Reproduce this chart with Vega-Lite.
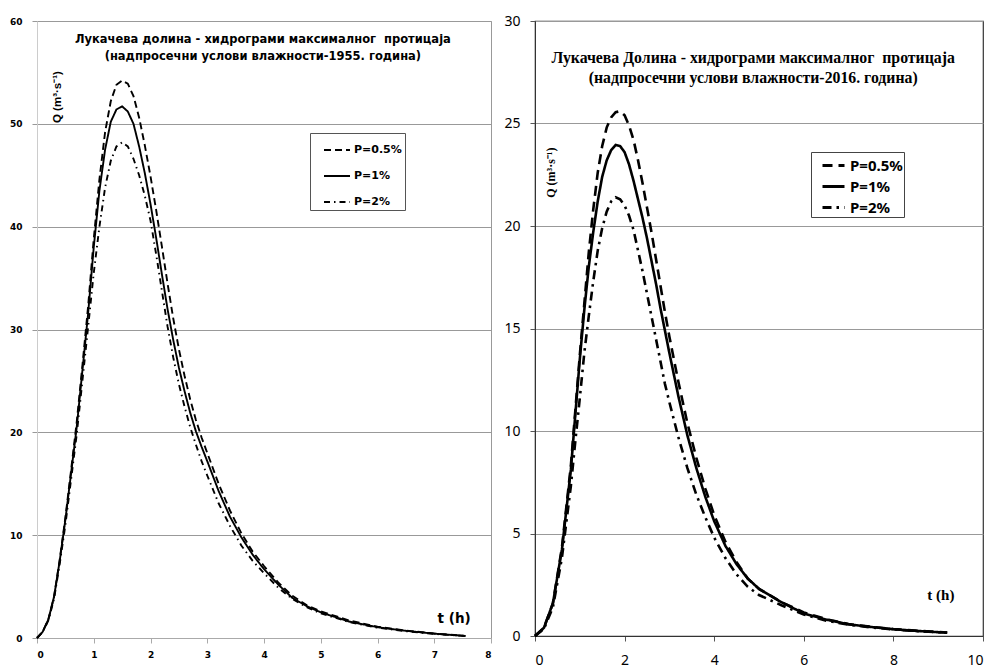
{
  "$schema": "https://vega.github.io/schema/vega-lite/v6.json",
  "padding": {"left": 8, "top": 13, "right": 0, "bottom": 0},
  "spacing": 11,
  "background": "white",
  "config": {
    "view": {"stroke": null},
    "axis": {"title": null, "tickSize": 5, "labelColor": "black", "format": "d"}
  },
  "datasets": {
    "left": [
      {"t":0,"Q":0,"P":"P=1%"},{"t":0.1,"Q":0.6,"P":"P=1%"},{"t":0.2,"Q":1.8,"P":"P=1%"},{"t":0.3,"Q":4.0,"P":"P=1%"},{"t":0.4,"Q":7.5,"P":"P=1%"},{"t":0.5,"Q":11.5,"P":"P=1%"},{"t":0.6,"Q":16.0,"P":"P=1%"},{"t":0.7,"Q":20.5,"P":"P=1%"},{"t":0.8,"Q":26.0,"P":"P=1%"},{"t":0.9,"Q":31.5,"P":"P=1%"},{"t":1.0,"Q":38.0,"P":"P=1%"},{"t":1.1,"Q":43.5,"P":"P=1%"},{"t":1.2,"Q":47.5,"P":"P=1%"},{"t":1.3,"Q":50.2,"P":"P=1%"},{"t":1.4,"Q":51.4,"P":"P=1%"},{"t":1.5,"Q":51.7,"P":"P=1%"},{"t":1.6,"Q":51.2,"P":"P=1%"},{"t":1.7,"Q":50.0,"P":"P=1%"},{"t":1.8,"Q":47.8,"P":"P=1%"},{"t":1.9,"Q":45.2,"P":"P=1%"},{"t":2.0,"Q":42.2,"P":"P=1%"},{"t":2.1,"Q":38.9,"P":"P=1%"},{"t":2.2,"Q":35.4,"P":"P=1%"},{"t":2.3,"Q":32.0,"P":"P=1%"},{"t":2.4,"Q":29.0,"P":"P=1%"},{"t":2.5,"Q":26.3,"P":"P=1%"},{"t":2.6,"Q":24.0,"P":"P=1%"},{"t":2.7,"Q":21.9,"P":"P=1%"},{"t":2.8,"Q":20.1,"P":"P=1%"},{"t":2.9,"Q":18.6,"P":"P=1%"},{"t":3.0,"Q":17.2,"P":"P=1%"},{"t":3.2,"Q":14.3,"P":"P=1%"},{"t":3.4,"Q":11.8,"P":"P=1%"},{"t":3.6,"Q":9.8,"P":"P=1%"},{"t":3.8,"Q":8.1,"P":"P=1%"},{"t":4.0,"Q":6.7,"P":"P=1%"},{"t":4.25,"Q":5.2,"P":"P=1%"},{"t":4.5,"Q":3.9,"P":"P=1%"},{"t":4.75,"Q":3.1,"P":"P=1%"},{"t":5.0,"Q":2.5,"P":"P=1%"},{"t":5.5,"Q":1.6,"P":"P=1%"},{"t":6.0,"Q":1.05,"P":"P=1%"},{"t":6.5,"Q":0.7,"P":"P=1%"},{"t":7.0,"Q":0.42,"P":"P=1%"},{"t":7.55,"Q":0.2,"P":"P=1%"},
      {"t":0,"Q":0,"P":"P=0.5%"},{"t":0.1,"Q":0.6,"P":"P=0.5%"},{"t":0.2,"Q":1.8,"P":"P=0.5%"},{"t":0.3,"Q":4.0,"P":"P=0.5%"},{"t":0.4,"Q":7.6,"P":"P=0.5%"},{"t":0.5,"Q":11.7,"P":"P=0.5%"},{"t":0.6,"Q":16.3,"P":"P=0.5%"},{"t":0.7,"Q":21.0,"P":"P=0.5%"},{"t":0.8,"Q":26.5,"P":"P=0.5%"},{"t":0.9,"Q":32.2,"P":"P=0.5%"},{"t":1.0,"Q":38.8,"P":"P=0.5%"},{"t":1.1,"Q":44.6,"P":"P=0.5%"},{"t":1.2,"Q":49.2,"P":"P=0.5%"},{"t":1.3,"Q":52.2,"P":"P=0.5%"},{"t":1.4,"Q":53.8,"P":"P=0.5%"},{"t":1.5,"Q":54.2,"P":"P=0.5%"},{"t":1.6,"Q":53.9,"P":"P=0.5%"},{"t":1.7,"Q":52.7,"P":"P=0.5%"},{"t":1.8,"Q":50.6,"P":"P=0.5%"},{"t":1.9,"Q":47.9,"P":"P=0.5%"},{"t":2.0,"Q":44.9,"P":"P=0.5%"},{"t":2.1,"Q":41.6,"P":"P=0.5%"},{"t":2.2,"Q":38.1,"P":"P=0.5%"},{"t":2.3,"Q":34.5,"P":"P=0.5%"},{"t":2.4,"Q":31.1,"P":"P=0.5%"},{"t":2.5,"Q":28.1,"P":"P=0.5%"},{"t":2.6,"Q":25.5,"P":"P=0.5%"},{"t":2.7,"Q":23.2,"P":"P=0.5%"},{"t":2.8,"Q":21.2,"P":"P=0.5%"},{"t":2.9,"Q":19.5,"P":"P=0.5%"},{"t":3.0,"Q":18.0,"P":"P=0.5%"},{"t":3.2,"Q":15.0,"P":"P=0.5%"},{"t":3.4,"Q":12.4,"P":"P=0.5%"},{"t":3.6,"Q":10.2,"P":"P=0.5%"},{"t":3.8,"Q":8.4,"P":"P=0.5%"},{"t":4.0,"Q":7.0,"P":"P=0.5%"},{"t":4.25,"Q":5.4,"P":"P=0.5%"},{"t":4.5,"Q":4.1,"P":"P=0.5%"},{"t":4.75,"Q":3.2,"P":"P=0.5%"},{"t":5.0,"Q":2.6,"P":"P=0.5%"},{"t":5.5,"Q":1.7,"P":"P=0.5%"},{"t":6.0,"Q":1.1,"P":"P=0.5%"},{"t":6.5,"Q":0.72,"P":"P=0.5%"},{"t":7.0,"Q":0.44,"P":"P=0.5%"},{"t":7.55,"Q":0.2,"P":"P=0.5%"},
      {"t":0,"Q":0,"P":"P=2%"},{"t":0.1,"Q":0.6,"P":"P=2%"},{"t":0.2,"Q":1.7,"P":"P=2%"},{"t":0.3,"Q":3.8,"P":"P=2%"},{"t":0.4,"Q":7.2,"P":"P=2%"},{"t":0.5,"Q":11.0,"P":"P=2%"},{"t":0.6,"Q":15.4,"P":"P=2%"},{"t":0.7,"Q":19.8,"P":"P=2%"},{"t":0.8,"Q":25.0,"P":"P=2%"},{"t":0.9,"Q":30.2,"P":"P=2%"},{"t":1.0,"Q":35.5,"P":"P=2%"},{"t":1.1,"Q":40.0,"P":"P=2%"},{"t":1.2,"Q":43.8,"P":"P=2%"},{"t":1.3,"Q":46.4,"P":"P=2%"},{"t":1.4,"Q":47.8,"P":"P=2%"},{"t":1.5,"Q":48.2,"P":"P=2%"},{"t":1.6,"Q":47.8,"P":"P=2%"},{"t":1.7,"Q":46.6,"P":"P=2%"},{"t":1.8,"Q":45.0,"P":"P=2%"},{"t":1.9,"Q":43.0,"P":"P=2%"},{"t":2.0,"Q":40.6,"P":"P=2%"},{"t":2.1,"Q":37.3,"P":"P=2%"},{"t":2.2,"Q":33.8,"P":"P=2%"},{"t":2.3,"Q":30.3,"P":"P=2%"},{"t":2.4,"Q":27.3,"P":"P=2%"},{"t":2.5,"Q":24.7,"P":"P=2%"},{"t":2.6,"Q":22.5,"P":"P=2%"},{"t":2.7,"Q":20.5,"P":"P=2%"},{"t":2.8,"Q":18.8,"P":"P=2%"},{"t":2.9,"Q":17.2,"P":"P=2%"},{"t":3.0,"Q":15.8,"P":"P=2%"},{"t":3.2,"Q":13.1,"P":"P=2%"},{"t":3.4,"Q":10.9,"P":"P=2%"},{"t":3.6,"Q":9.0,"P":"P=2%"},{"t":3.8,"Q":7.5,"P":"P=2%"},{"t":4.0,"Q":6.3,"P":"P=2%"},{"t":4.25,"Q":4.9,"P":"P=2%"},{"t":4.5,"Q":3.8,"P":"P=2%"},{"t":4.75,"Q":3.0,"P":"P=2%"},{"t":5.0,"Q":2.4,"P":"P=2%"},{"t":5.5,"Q":1.55,"P":"P=2%"},{"t":6.0,"Q":1.0,"P":"P=2%"},{"t":6.5,"Q":0.66,"P":"P=2%"},{"t":7.0,"Q":0.4,"P":"P=2%"},{"t":7.55,"Q":0.2,"P":"P=2%"}
    ],
    "right": [
      {"t":0,"Q":0,"P":"P=0.5%"},{"t":0.2,"Q":0.4,"P":"P=0.5%"},{"t":0.4,"Q":1.6,"P":"P=0.5%"},{"t":0.6,"Q":4.3,"P":"P=0.5%"},{"t":0.8,"Q":8.3,"P":"P=0.5%"},{"t":0.9,"Q":11.0,"P":"P=0.5%"},{"t":1.0,"Q":13.7,"P":"P=0.5%"},{"t":1.1,"Q":16.2,"P":"P=0.5%"},{"t":1.2,"Q":18.7,"P":"P=0.5%"},{"t":1.3,"Q":20.8,"P":"P=0.5%"},{"t":1.4,"Q":22.6,"P":"P=0.5%"},{"t":1.5,"Q":23.9,"P":"P=0.5%"},{"t":1.6,"Q":24.8,"P":"P=0.5%"},{"t":1.7,"Q":25.3,"P":"P=0.5%"},{"t":1.8,"Q":25.55,"P":"P=0.5%"},{"t":1.9,"Q":25.6,"P":"P=0.5%"},{"t":2.0,"Q":25.4,"P":"P=0.5%"},{"t":2.1,"Q":24.9,"P":"P=0.5%"},{"t":2.2,"Q":24.2,"P":"P=0.5%"},{"t":2.3,"Q":23.2,"P":"P=0.5%"},{"t":2.4,"Q":22.1,"P":"P=0.5%"},{"t":2.5,"Q":20.9,"P":"P=0.5%"},{"t":2.6,"Q":19.7,"P":"P=0.5%"},{"t":2.7,"Q":18.4,"P":"P=0.5%"},{"t":2.8,"Q":17.1,"P":"P=0.5%"},{"t":2.9,"Q":15.8,"P":"P=0.5%"},{"t":3.0,"Q":14.6,"P":"P=0.5%"},{"t":3.2,"Q":12.4,"P":"P=0.5%"},{"t":3.4,"Q":10.4,"P":"P=0.5%"},{"t":3.6,"Q":8.7,"P":"P=0.5%"},{"t":3.8,"Q":7.2,"P":"P=0.5%"},{"t":4.0,"Q":5.9,"P":"P=0.5%"},{"t":4.25,"Q":4.6,"P":"P=0.5%"},{"t":4.5,"Q":3.6,"P":"P=0.5%"},{"t":4.75,"Q":2.8,"P":"P=0.5%"},{"t":5.0,"Q":2.3,"P":"P=0.5%"},{"t":5.5,"Q":1.65,"P":"P=0.5%"},{"t":6.0,"Q":1.15,"P":"P=0.5%"},{"t":6.5,"Q":0.82,"P":"P=0.5%"},{"t":7.0,"Q":0.58,"P":"P=0.5%"},{"t":7.5,"Q":0.45,"P":"P=0.5%"},{"t":8.0,"Q":0.34,"P":"P=0.5%"},{"t":8.5,"Q":0.26,"P":"P=0.5%"},{"t":9.2,"Q":0.17,"P":"P=0.5%"},
      {"t":0,"Q":0,"P":"P=1%"},{"t":0.2,"Q":0.4,"P":"P=1%"},{"t":0.4,"Q":1.6,"P":"P=1%"},{"t":0.6,"Q":4.2,"P":"P=1%"},{"t":0.8,"Q":8.1,"P":"P=1%"},{"t":0.9,"Q":10.8,"P":"P=1%"},{"t":1.0,"Q":13.5,"P":"P=1%"},{"t":1.1,"Q":15.9,"P":"P=1%"},{"t":1.2,"Q":18.0,"P":"P=1%"},{"t":1.3,"Q":19.7,"P":"P=1%"},{"t":1.4,"Q":21.2,"P":"P=1%"},{"t":1.5,"Q":22.4,"P":"P=1%"},{"t":1.6,"Q":23.2,"P":"P=1%"},{"t":1.7,"Q":23.7,"P":"P=1%"},{"t":1.8,"Q":23.95,"P":"P=1%"},{"t":1.9,"Q":23.9,"P":"P=1%"},{"t":2.0,"Q":23.6,"P":"P=1%"},{"t":2.1,"Q":23.0,"P":"P=1%"},{"t":2.2,"Q":22.2,"P":"P=1%"},{"t":2.3,"Q":21.3,"P":"P=1%"},{"t":2.4,"Q":20.4,"P":"P=1%"},{"t":2.5,"Q":19.4,"P":"P=1%"},{"t":2.6,"Q":18.3,"P":"P=1%"},{"t":2.7,"Q":17.2,"P":"P=1%"},{"t":2.8,"Q":16.0,"P":"P=1%"},{"t":2.9,"Q":14.9,"P":"P=1%"},{"t":3.0,"Q":13.8,"P":"P=1%"},{"t":3.2,"Q":11.7,"P":"P=1%"},{"t":3.4,"Q":9.8,"P":"P=1%"},{"t":3.6,"Q":8.2,"P":"P=1%"},{"t":3.8,"Q":6.8,"P":"P=1%"},{"t":4.0,"Q":5.6,"P":"P=1%"},{"t":4.25,"Q":4.4,"P":"P=1%"},{"t":4.5,"Q":3.5,"P":"P=1%"},{"t":4.75,"Q":2.8,"P":"P=1%"},{"t":5.0,"Q":2.3,"P":"P=1%"},{"t":5.5,"Q":1.65,"P":"P=1%"},{"t":6.0,"Q":1.1,"P":"P=1%"},{"t":6.5,"Q":0.8,"P":"P=1%"},{"t":7.0,"Q":0.57,"P":"P=1%"},{"t":7.5,"Q":0.44,"P":"P=1%"},{"t":8.0,"Q":0.33,"P":"P=1%"},{"t":8.5,"Q":0.25,"P":"P=1%"},{"t":9.2,"Q":0.16,"P":"P=1%"},
      {"t":0,"Q":0,"P":"P=2%"},{"t":0.2,"Q":0.35,"P":"P=2%"},{"t":0.4,"Q":1.4,"P":"P=2%"},{"t":0.6,"Q":3.8,"P":"P=2%"},{"t":0.8,"Q":7.3,"P":"P=2%"},{"t":0.9,"Q":9.5,"P":"P=2%"},{"t":1.0,"Q":11.6,"P":"P=2%"},{"t":1.1,"Q":13.8,"P":"P=2%"},{"t":1.2,"Q":15.6,"P":"P=2%"},{"t":1.3,"Q":17.3,"P":"P=2%"},{"t":1.4,"Q":18.8,"P":"P=2%"},{"t":1.5,"Q":19.9,"P":"P=2%"},{"t":1.6,"Q":20.7,"P":"P=2%"},{"t":1.7,"Q":21.2,"P":"P=2%"},{"t":1.8,"Q":21.4,"P":"P=2%"},{"t":1.9,"Q":21.3,"P":"P=2%"},{"t":2.0,"Q":21.0,"P":"P=2%"},{"t":2.1,"Q":20.5,"P":"P=2%"},{"t":2.2,"Q":19.8,"P":"P=2%"},{"t":2.3,"Q":18.8,"P":"P=2%"},{"t":2.4,"Q":17.8,"P":"P=2%"},{"t":2.5,"Q":16.7,"P":"P=2%"},{"t":2.6,"Q":15.6,"P":"P=2%"},{"t":2.7,"Q":14.5,"P":"P=2%"},{"t":2.8,"Q":13.4,"P":"P=2%"},{"t":2.9,"Q":12.3,"P":"P=2%"},{"t":3.0,"Q":11.4,"P":"P=2%"},{"t":3.2,"Q":9.7,"P":"P=2%"},{"t":3.4,"Q":8.2,"P":"P=2%"},{"t":3.6,"Q":6.9,"P":"P=2%"},{"t":3.8,"Q":5.8,"P":"P=2%"},{"t":4.0,"Q":4.8,"P":"P=2%"},{"t":4.25,"Q":3.8,"P":"P=2%"},{"t":4.5,"Q":3.0,"P":"P=2%"},{"t":4.75,"Q":2.4,"P":"P=2%"},{"t":5.0,"Q":2.0,"P":"P=2%"},{"t":5.5,"Q":1.5,"P":"P=2%"},{"t":6.0,"Q":1.05,"P":"P=2%"},{"t":6.5,"Q":0.75,"P":"P=2%"},{"t":7.0,"Q":0.55,"P":"P=2%"},{"t":7.5,"Q":0.42,"P":"P=2%"},{"t":8.0,"Q":0.32,"P":"P=2%"},{"t":8.5,"Q":0.24,"P":"P=2%"},{"t":9.2,"Q":0.16,"P":"P=2%"}
    ]
  },
  "resolve": {
    "scale": {"x": "independent", "y": "independent", "strokeDash": "independent"},
    "legend": {"strokeDash": "independent"}
  },
  "hconcat": [
    {
      "width": 454,
      "height": 617,
      "view": {"stroke": "#999", "strokeWidth": 1},
      "layer": [
        {
          "data": {"name": "left"},
          "mark": {"type": "line", "color": "black", "strokeWidth": 1.9},
          "encoding": {
            "x": {"field": "t", "type": "quantitative",
              "scale": {"domain": [0, 8], "nice": false},
              "axis": {"values": [0,1,2,3,4,5,6,7,8], "format": "d", "grid": false, "domainColor": "#aaa", "tickColor": "#aaa", "labelFont": "DejaVu Sans", "labelFontWeight": "bold", "labelFontSize": 9, "labelPadding": 7}},
            "y": {"field": "Q", "type": "quantitative",
              "scale": {"domain": [0, 60], "nice": false},
              "axis": {"values": [0,10,20,30,40,50,60], "format": "d", "grid": true, "gridColor": "#999", "domainColor": "#ccc", "tickColor": "#999", "labelFont": "DejaVu Sans", "labelFontWeight": "bold", "labelFontSize": 9, "labelPadding": 10}},
            "strokeDash": {"field": "P", "type": "nominal",
              "scale": {"domain": ["P=0.5%", "P=1%", "P=2%"], "range": [[7, 4], [1, 0], [6, 4, 1.5, 4]]},
              "legend": {"title": null, "orient": "none", "legendX": 273, "legendY": 112,
                "symbolType": "stroke", "symbolSize": 676, "symbolStrokeWidth": 2, "symbolStrokeColor": "black",
                "labelFont": "DejaVu Sans", "labelFontWeight": "bold", "labelFontSize": 11, "labelColor": "black",
                "strokeColor": "#555", "fillColor": "white", "padding": 3, "rowPadding": 7,
                "symbolOffset": 10, "labelOffset": 3, "labelExpr": "datum.label + '\u00a0\u00a0\u00a0\u00a0'"}}
          }
        },
        {
          "data": {"values": [{"label": ["Лукачева долина - хидрограми максималног\u00a0\u00a0протицаја", "(надпросечни услови влажности-1955. година)"]}]},
          "mark": {"type": "text", "font": "DejaVu Sans", "fontWeight": "bold", "fontSize": 11.5, "align": "center", "baseline": "top", "lineHeight": 17},
          "encoding": {"x": {"datum": 3.98, "type": "quantitative"}, "y": {"datum": 58.7, "type": "quantitative"}, "text": {"field": "label"}}
        },
        {
          "data": {"values": [{"label": "Q (m³·s⁻¹)"}]},
          "mark": {"type": "text", "font": "Liberation Sans", "fontWeight": "bold", "fontSize": 11.5, "align": "center", "baseline": "middle", "angle": 270},
          "encoding": {"x": {"datum": 0.37, "type": "quantitative"}, "y": {"datum": 52.6, "type": "quantitative"}, "text": {"field": "label"}}
        },
        {
          "data": {"values": [{"label": "t (h)"}]},
          "mark": {"type": "text", "font": "DejaVu Sans", "fontWeight": "bold", "fontSize": 13.5, "align": "center", "baseline": "middle"},
          "encoding": {"x": {"datum": 7.35, "type": "quantitative"}, "y": {"datum": 1.85, "type": "quantitative"}, "text": {"field": "label"}}
        }
      ]
    },
    {
      "width": 448,
      "height": 615,
      "view": {"stroke": "#333", "strokeWidth": 1.2},
      "layer": [
        {
          "data": {"name": "right"},
          "mark": {"type": "line", "color": "black", "strokeWidth": 2.6},
          "encoding": {
            "x": {"field": "t", "type": "quantitative",
              "scale": {"domain": [0, 10], "nice": false},
              "axis": {"values": [0,2,4,6,8,10], "format": "d", "grid": false, "domainColor": "#333", "tickColor": "#555", "labelFont": "Noto Sans", "labelFontSize": 14, "labelPadding": 12}},
            "y": {"field": "Q", "type": "quantitative",
              "scale": {"domain": [0, 30], "nice": false},
              "axis": {"values": [0,5,10,15,20,25,30], "format": "d", "grid": true, "gridColor": "#999", "domainColor": "#333", "tickColor": "#555", "labelFont": "Noto Sans", "labelFontSize": 14, "labelPadding": 10}},
            "strokeDash": {"field": "P", "type": "nominal",
              "scale": {"domain": ["P=0.5%", "P=1%", "P=2%"], "range": [[10, 6], [1, 0], [9, 5, 2.5, 5]]},
              "legend": {"title": null, "orient": "none", "legendX": 276, "legendY": 131,
                "symbolType": "stroke", "symbolSize": 484, "symbolStrokeWidth": 3, "symbolStrokeColor": "black",
                "labelFont": "Noto Sans", "labelFontWeight": "bold", "labelFontSize": 15, "labelColor": "black",
                "strokeColor": "#444", "fillColor": "white", "padding": 1, "rowPadding": 0,
                "symbolOffset": 9, "labelOffset": 4, "labelExpr": "datum.label + '\u00a0\u00a0\u00a0\u00a0'"}}
          }
        },
        {
          "data": {"values": [{"label": ["Лукачева Долина - хидрограми максималног\u00a0\u00a0протицаја", "(надпросечни услови влажности-2016. година)"]}]},
          "mark": {"type": "text", "font": "Liberation Serif", "fontWeight": "bold", "fontSize": 15.8, "align": "center", "baseline": "top", "lineHeight": 20},
          "encoding": {"x": {"datum": 4.87, "type": "quantitative"}, "y": {"datum": 28.55, "type": "quantitative"}, "text": {"field": "label"}}
        },
        {
          "data": {"values": [{"label": "Q (m³·s⁻¹)"}]},
          "mark": {"type": "text", "font": "Liberation Serif", "fontWeight": "bold", "fontSize": 12, "align": "center", "baseline": "middle", "angle": 270},
          "encoding": {"x": {"datum": 0.36, "type": "quantitative"}, "y": {"datum": 22.6, "type": "quantitative"}, "text": {"field": "label"}}
        },
        {
          "data": {"values": [{"label": "t (h)"}]},
          "mark": {"type": "text", "font": "Liberation Serif", "fontWeight": "bold", "fontSize": 15, "align": "center", "baseline": "middle"},
          "encoding": {"x": {"datum": 9.06, "type": "quantitative"}, "y": {"datum": 2.0, "type": "quantitative"}, "text": {"field": "label"}}
        }
      ]
    }
  ]
}
